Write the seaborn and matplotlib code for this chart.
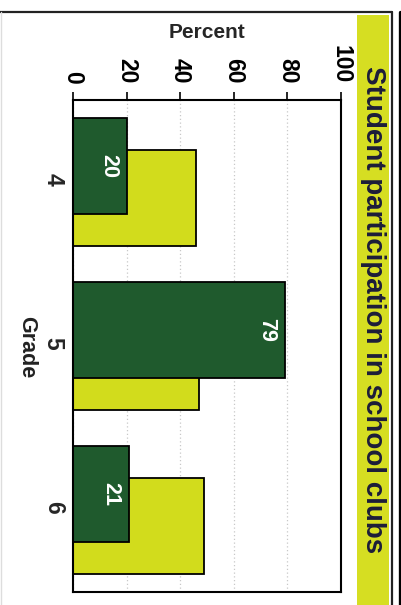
import matplotlib
matplotlib.use("Agg")
import matplotlib.pyplot as plt
from matplotlib.lines import Line2D
from matplotlib.patches import Rectangle
from matplotlib.transforms import Affine2D
import pandas as pd
import seaborn as sns

# Data
grades = ["4", "5", "6"]
club_pct = [20, 79, 21]          # dark green, labelled bars (front)
reference_pct = [46, 47, 49]     # yellow-green bars (behind)
pct_ticks = [0, 20, 40, 60, 80, 100]
title = "Student participation in school clubs"

DARK = "#1f5a2d"
LIME = "#d2dc1c"
BAND = "#d6de22"
INK = "#1c1c3a"

sns.set_style("white")
plt.rcParams["font.family"] = ["Liberation Sans", "DejaVu Sans"]

W, H = 401, 605
fig = plt.figure(figsize=(W / 100, H / 100), dpi=100)

def fx(px):
    return px / W

def fy(py):
    return 1 - py / H

# Plot area (chart is laid out turned a quarter clockwise)
ax = fig.add_axes([fx(73), fy(592), fx(341) - fx(73), (592 - 100) / H])

back = pd.DataFrame({"grade": grades, "pct": reference_pct})
front = pd.DataFrame({"grade": grades, "pct": club_pct})

sns.barplot(data=back, x="pct", y="grade", orient="h", width=0.59,
            color=LIME, saturation=1, edgecolor="black", linewidth=1.3, ax=ax)
sns.barplot(data=front, x="pct", y="grade", orient="h", width=0.59,
            color=DARK, saturation=1, edgecolor="black", linewidth=1.3, ax=ax)

# Overlapping pair: shift the series a little apart within each grade
shift = 0.098
for p in ax.containers[0]:
    p.set_transform(Affine2D().translate(0, shift) + ax.transData)
for p in ax.containers[1]:
    p.set_transform(Affine2D().translate(0, -shift) + ax.transData)

# Value labels inside the front bars
for p, v in zip(ax.containers[1], club_pct):
    yc = p.get_y() + p.get_height() / 2 - shift
    ax.annotate(f"{v}", xy=(v, yc), xytext=(-5.5, 0), textcoords="offset points",
                rotation=270, ha="right", va="center", color="white",
                fontweight="bold", fontsize=15.5)

ax.set_xlim(0, 100)
ax.set_xticks(pct_ticks)
ax.xaxis.tick_top()
ax.xaxis.set_label_position("top")
ax.tick_params(axis="x", which="both", top=True, bottom=False, direction="out",
               length=5.8, width=1.2, pad=6, labelsize=16.5, labelrotation=270,
               colors="black")
for t in ax.get_xticklabels():
    t.set_fontweight("bold")

ax.tick_params(axis="y", left=False, length=0, pad=6, labelsize=16.5,
               labelrotation=270)
for t in ax.get_yticklabels():
    t.set_fontweight("bold")

ax.set_xlabel("Percent", fontsize=15, fontweight="bold", labelpad=5)
ax.set_ylabel("")
fig.text(fx(27), fy(347), "Grade", rotation=270, ha="center", va="center",
         fontsize=15.5, fontweight="bold", color="#222222")

ax.grid(axis="x", color="#c8c8c8", linestyle=(0, (1, 2)), linewidth=0.9)
ax.grid(axis="y", visible=False)
ax.set_axisbelow(True)
for s in ax.spines.values():
    s.set_visible(True)
    s.set_color("black")
    s.set_linewidth(1.5)

# Outer frame and title band
fig.add_artist(Line2D([fx(0), fx(392)], [fy(12), fy(12)], color="#222222", lw=1.6,
                      transform=fig.transFigure))
fig.add_artist(Line2D([fx(392), fx(392)], [fy(12), fy(605)], color="#222222", lw=1.6,
                      transform=fig.transFigure))
fig.add_artist(Line2D([fx(1), fx(1)], [fy(12), fy(605)], color="#dddddd", lw=1.0,
                      transform=fig.transFigure))
fig.add_artist(Line2D([fx(399.5), fx(399.5)], [fy(12), fy(605)], color="black", lw=2.4,
                      transform=fig.transFigure))
fig.add_artist(Rectangle((fx(357), fy(605)), fx(389) - fx(357), (605 - 15) / H,
                         facecolor=BAND, edgecolor="none", transform=fig.transFigure))
fig.text(fx(373), fy(310), title, rotation=270, ha="center", va="center",
         fontsize=20, fontweight="bold", color=INK)

fig.savefig("out.png", dpi=100)
